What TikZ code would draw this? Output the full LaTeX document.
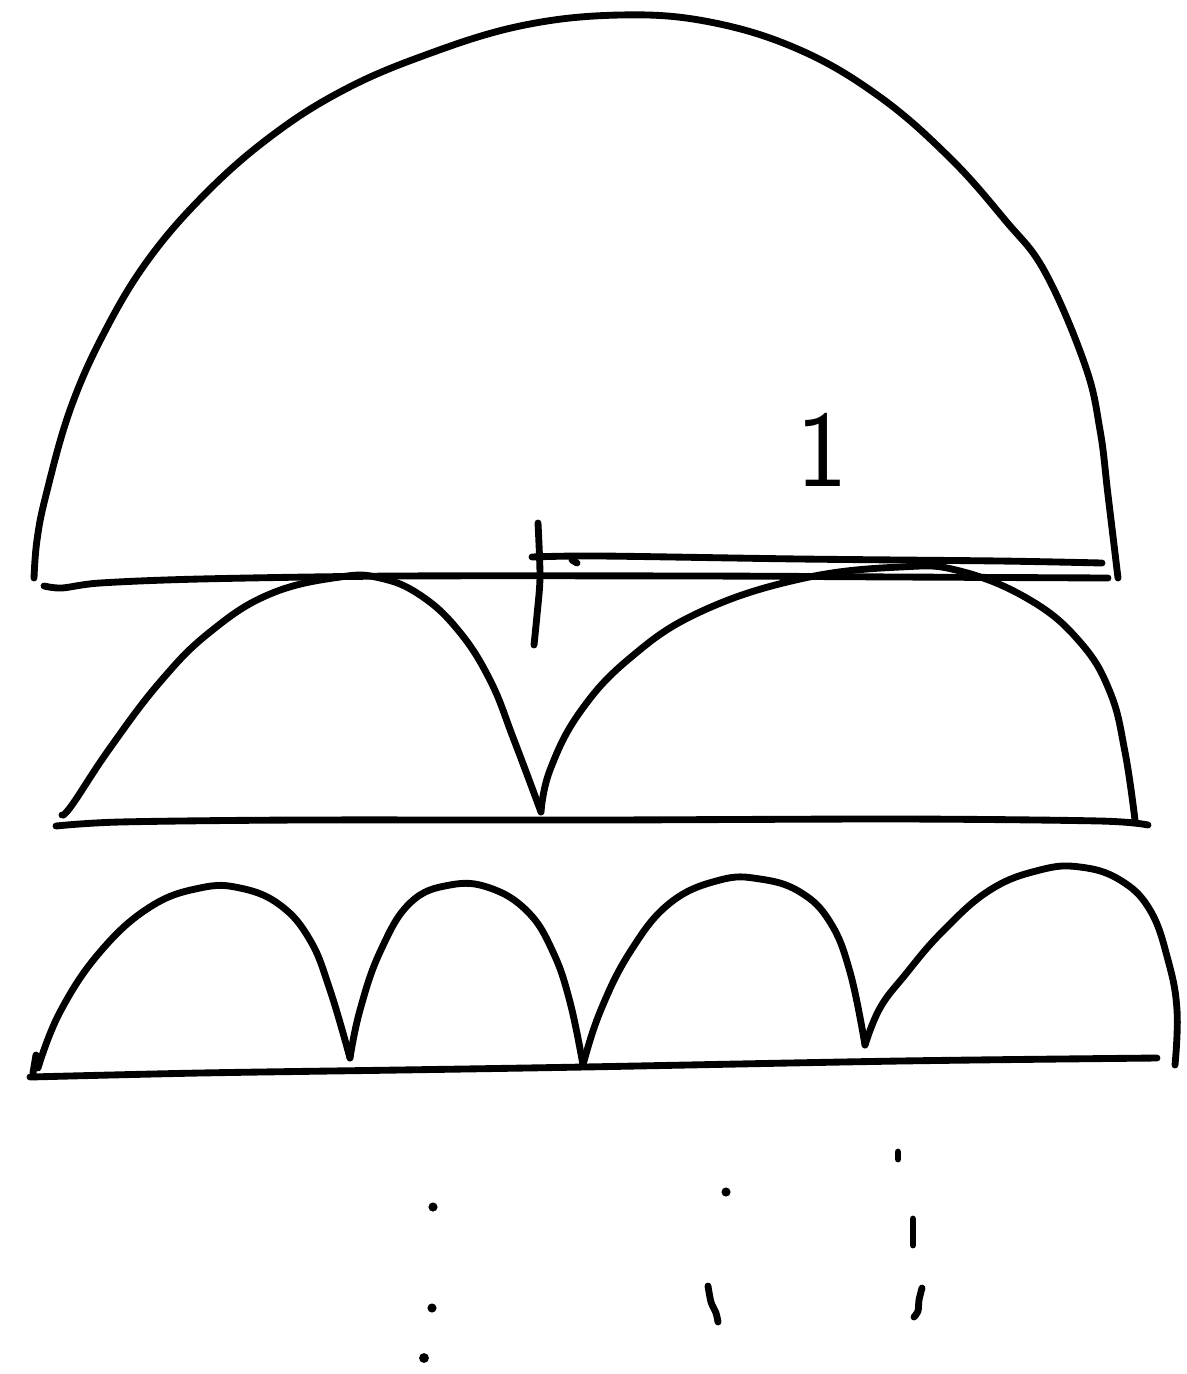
\documentclass[tikz,border=0pt]{standalone}
\usepackage{tikz}
\usetikzlibrary{positioning}

\begin{document}
\begin{tikzpicture}[x=0.02cm, y=-0.02cm,
    pen/.style={line width=3.9pt, line cap=round, line join=round}]
    \useasboundingbox (0,0) rectangle (1187,1374);
    % big half circle
    \draw[pen] plot[smooth, tension=0.65] coordinates {(34,578) (37,540) (46,495) (70,410) (104,333) (148,260) (205,194) (270,137) (340,92) (420,57) (520,26) (620,15) (710,22) (800,50) (880,97) (950,158) (1005,220) (1045,272) (1085,365) (1100,430) (1108,495) (1118,578)};
    \draw[pen] plot[smooth, tension=0.5] coordinates {(44,586) (62,588) (100,583) (200,579) (400,576) (700,576) (900,577) (1108,578)};
    % radius and its label
    \draw[pen] plot[smooth, tension=0.5] coordinates {(532,557) (600,556) (800,559) (1000,561) (1102,563)};
    \draw[pen] (572,560) -- (577,563);
    \draw[pen] plot[smooth, tension=0.5] coordinates {(538,523) (540,577) (537,615) (534,645)};
    \node[font=\fontsize{62}{66}\selectfont\sffamily] (one) at (822,450) {1};
    % two arches
    \draw[pen] plot[smooth, tension=0.5] coordinates {(56,826) (120,822) (300,820) (600,820) (900,819) (1100,821) (1148,825)};
    \draw[pen] plot[smooth, tension=0.7] coordinates {(62,815) (72,805) (110,748) (160,682) (210,632) (270,594) (340,577) (380,578) (420,595) (458,630) (490,680) (514,740) (541,812)};
    \draw[pen] plot[smooth, tension=0.7] coordinates {(541,812) (550,770) (580,712) (630,658) (700,612) (800,579) (900,567) (960,571) (1030,600) (1080,642) (1110,692) (1125,752) (1135,820)};
    % four arches
    \draw[pen] plot[smooth, tension=0.5] coordinates {(30,1077) (200,1073) (400,1070) (584,1067) (900,1061) (1157,1058)};
    \draw[pen] (36,1055) -- (33,1073);
    \draw[pen] plot[smooth, tension=0.7] coordinates {(38,1068) (60,1012) (100,952) (150,907) (200,888) (240,888) (280,905) (310,940) (330,990) (350,1058)};
    \draw[pen] plot[smooth, tension=0.7] coordinates {(350,1058) (360,1010) (380,952) (410,903) (450,885) (490,888) (528,912) (553,952) (570,1002) (583,1065)};
    \draw[pen] plot[smooth, tension=0.7] coordinates {(583,1065) (600,1012) (630,952) (670,903) (720,880) (760,879) (800,892) (830,922) (850,972) (865,1045)};
    \draw[pen] plot[smooth, tension=0.7] coordinates {(865,1045) (880,1008) (905,975) (942,932) (990,890) (1040,870) (1080,867) (1120,880) (1150,910) (1168,960) (1177,1010) (1175,1065)};
    % dots below
    \fill (433,1207) circle (2.6pt);
    \fill (432,1308) circle (2.6pt);
    \fill (424,1358) circle (2.8pt);
    \fill (726,1192) circle (2.6pt);
    \draw[pen] plot[smooth, tension=0.5] coordinates {(708,1286) (711,1302) (716,1313) (718,1322)};
    \draw[pen] (898,1152) -- (898,1159);
    \draw[pen] (913,1219) -- (913,1245);
    \draw[pen] plot[smooth, tension=0.5] coordinates {(922,1288) (919,1300) (918,1311) (914,1317)};
\end{tikzpicture}
\end{document}
